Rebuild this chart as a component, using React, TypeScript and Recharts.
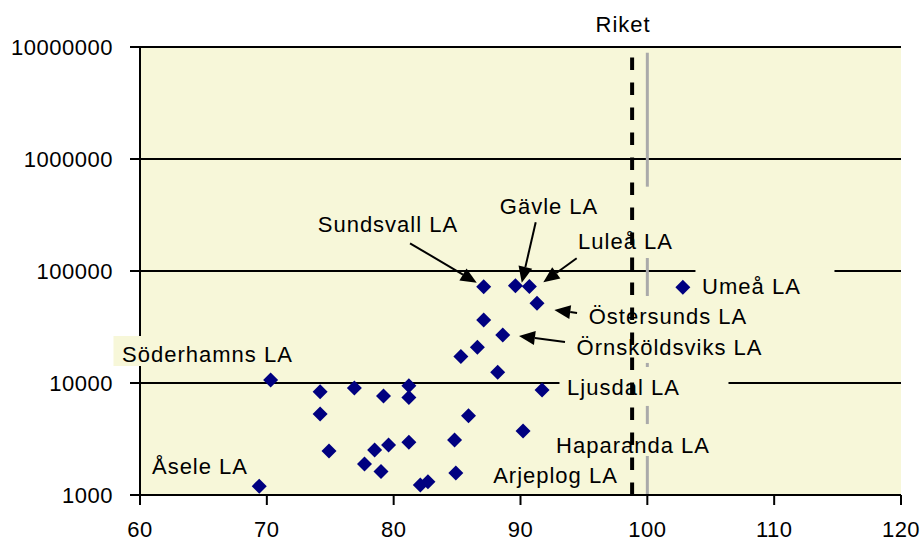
import React from 'react';
import { ScatterChart, Scatter, XAxis, YAxis, CartesianGrid, ReferenceLine } from 'recharts';

const FONT = '"Liberation Sans", Arial, sans-serif';
const PLOT_BG = '#F7F7D9';

const xTicks = [60, 70, 80, 90, 100, 110, 120];
const yTicks = [1000, 10000, 100000, 1000000, 10000000];

// one value per LA
const xValues = [69.4, 70.3, 74.2, 74.2, 74.9, 76.9, 77.7, 78.5, 79.0, 79.2, 79.6, 81.2, 81.2, 81.2, 82.1, 82.7,
  84.8, 84.9, 85.3, 85.9, 86.6, 87.1, 87.1, 88.2, 88.6, 89.6, 90.7, 91.3, 91.7, 90.2, 102.8];
const yValues = [1200, 10640, 8360, 5290, 2470, 9020, 1890, 2520, 1620, 7650, 2800, 9460, 7430, 2960, 1230, 1310,
  3100, 1570, 17250, 5100, 20830, 72400, 36520, 12470, 26840, 73930, 72740, 51470, 8660, 3730, 71490];

const labelNames = ['Sundsvall LA', 'Gävle LA', 'Luleå LA', 'Umeå LA', 'Östersunds LA', 'Örnsköldsviks LA',
  'Ljusdal LA', 'Haparanda LA', 'Arjeplog LA', 'Söderhamns LA', 'Åsele LA'];
const labelX = [79.55, 92.25, 98.28, 108.21, 101.63, 101.75, 98.12, 98.87, 92.76, 65.32, 64.73];
const labelY = [263000, 380300, 185300, 73500, 39650, 20950, 9205, 2795, 1510, 18150, 1815];

const arrowTailX = [81.29, 91.2, 94.43, 94.46, 93.51];
const arrowTailY = [176700, 272200, 129900, 42170, 23230];
const arrowHeadX = [86.55, 90.1, 91.8, 92.67, 89.88];
const arrowHeadY = [78630, 78630, 79290, 44850, 26290];

const riket = 98.8;
// visible pieces of the grey line at 100 (hidden behind label boxes elsewhere)
const greyPieces = [[8890000, 566000], [130600, 59800], [15100, 13900], [6240, 4300], [2230, 1000]];

// label boxes that cover grid lines: [left, right] offset from text centre
const labelBoxes: Record<string, [number, number]> = {
  'Ljusdal LA': [-64, 105],
  'Umeå LA': [-56, 83],
  'Söderhamns LA': [-94, 96],
};

const points = xValues.map((x, i) => ({ x, y: yValues[i] }));
const labels = labelNames.map((name, i) => ({ name, x: labelX[i], y: labelY[i] }));

const Diamond = (props: any) => {
  const { cx, cy } = props;
  const r = 7.5;
  return <polygon points={`${cx},${cy - r} ${cx + r},${cy} ${cx},${cy + r} ${cx - r},${cy}`} fill="#000080" />;
};

const LabelShape = (props: any) => {
  const { cx, cy, payload } = props;
  const box = labelBoxes[payload.name];
  return (
    <g>
      {box && <rect x={cx + box[0]} y={cy - 18} width={box[1] - box[0]} height={30} fill={PLOT_BG} />}
      <text x={cx} y={cy} dy={8} textAnchor="middle" fontSize={22} fontFamily={FONT} letterSpacing={1} fill="#000">
        {payload.name}
      </text>
    </g>
  );
};

const Arrow = (props: any) => {
  const { x1, y1, x2, y2 } = props;
  const dx = x2 - x1;
  const dy = y2 - y1;
  const len = Math.sqrt(dx * dx + dy * dy) || 1;
  const ux = dx / len;
  const uy = dy / len;
  const hl = 16;
  const hw = 7;
  const bx = x2 - ux * hl;
  const by = y2 - uy * hl;
  return (
    <g>
      <line x1={x1} y1={y1} x2={bx} y2={by} stroke="#000" strokeWidth={2} />
      <polygon
        points={`${x2},${y2} ${bx - uy * hw},${by + ux * hw} ${bx + uy * hw},${by - ux * hw}`}
        fill="#000"
      />
    </g>
  );
};

export default function App() {
  const tick = { fill: '#000', fontSize: 22, fontFamily: FONT, letterSpacing: 0.5 };
  return (
    <div style={{ position: 'absolute', left: 0, top: 0, width: 921, height: 541, background: '#fff' }}>
      <ScatterChart width={921} height={541} margin={{ top: 47, right: 20, bottom: 16, left: 0 }}>
        <CartesianGrid horizontal vertical={false} fill={PLOT_BG} stroke="#000" strokeWidth={2} />
        <XAxis
          type="number"
          dataKey="x"
          domain={[60, 120]}
          ticks={xTicks}
          height={30}
          tickSize={10}
          tickMargin={16}
          tick={tick}
          axisLine={{ stroke: '#000', strokeWidth: 2 }}
          tickLine={{ stroke: '#000', strokeWidth: 2 }}
        />
        <YAxis
          type="number"
          dataKey="y"
          scale="log"
          domain={[1000, 10000000]}
          ticks={yTicks}
          width={140}
          tickSize={10}
          tickMargin={17}
          tick={tick}
          axisLine={{ stroke: '#000', strokeWidth: 2 }}
          tickLine={{ stroke: '#000', strokeWidth: 2 }}
        />
        {greyPieces.map((p, i) => (
          <ReferenceLine
            key={'g' + i}
            segment={[{ x: 100, y: p[0] }, { x: 100, y: p[1] }]}
            stroke="#AAAAAA"
            strokeWidth={3}
          />
        ))}
        <Scatter data={labels} shape={LabelShape} isAnimationActive={false} />
        <ReferenceLine
          x={riket}
          stroke="#000"
          strokeWidth={4}
          strokeDasharray="12.5 12.5"
          zIndex={650}
          label={{ value: 'Riket', position: 'top', offset: 15, dx: -9, fill: '#000', fontSize: 22, fontFamily: FONT, letterSpacing: 1 }}
        />
        <Scatter data={points} shape={Diamond} fill="#000080" isAnimationActive={false} zIndex={700} />
        {arrowTailX.map((tx, i) => (
          <ReferenceLine
            key={'a' + i}
            segment={[{ x: tx, y: arrowTailY[i] }, { x: arrowHeadX[i], y: arrowHeadY[i] }]}
            shape={Arrow}
            zIndex={800}
          />
        ))}
      </ScatterChart>
    </div>
  );
}
